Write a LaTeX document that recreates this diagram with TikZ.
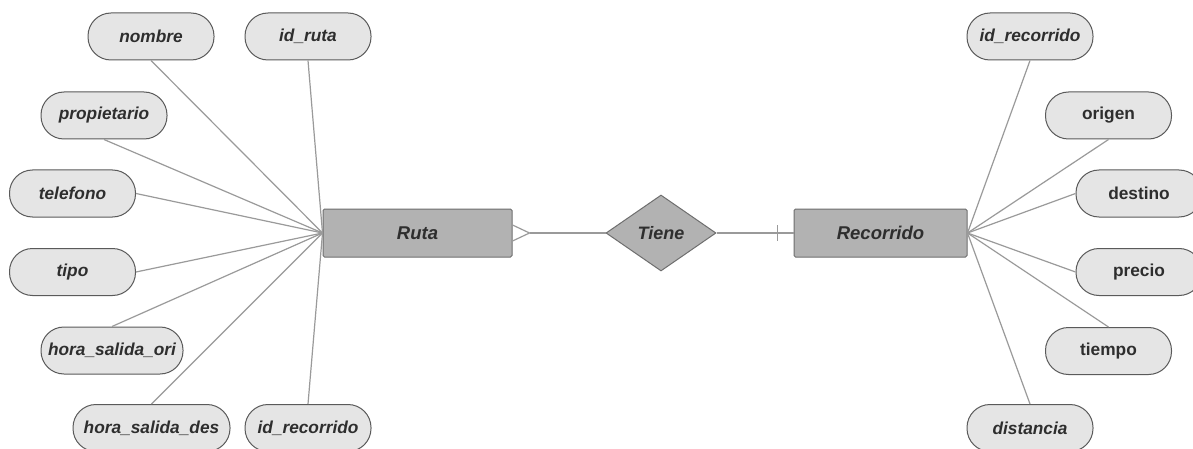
\documentclass[tikz,border=0pt]{standalone}
\usepackage{fontspec}
\setmainfont{Liberation Sans}
\usetikzlibrary{shapes.geometric,calc}
\definecolor{attrfill}{HTML}{E5E5E5}
\definecolor{attrdraw}{HTML}{5A5A5A}
\definecolor{entfill}{HTML}{B2B2B2}
\definecolor{entdraw}{HTML}{6E6E6E}
\definecolor{linecol}{HTML}{9A9A9A}
\definecolor{txt}{HTML}{2E2E2E}
\begin{document}
\begin{tikzpicture}[x=1pt,y=-1pt,
  attr/.style={draw=attrdraw, fill=attrfill, rounded corners=23pt, minimum width=126pt,
    minimum height=47pt, line width=1pt, inner sep=0pt, text=txt,
    font=\fontsize{17.3}{20}\selectfont\bfseries\itshape},
  attrup/.style={attr, font=\fontsize{17.3}{20}\selectfont\bfseries},
  entity/.style={draw=entdraw, fill=entfill, rounded corners=1.5pt, minimum width=189pt,
    minimum height=48pt, line width=1pt, inner sep=0pt, text=txt,
    font=\fontsize{18.5}{22}\selectfont\bfseries\itshape},
  rel/.style={diamond, draw=entdraw, fill=entfill, minimum width=110pt, minimum height=76pt,
    line width=1pt, inner sep=0pt, text=txt, font=\fontsize{18}{22}\selectfont\bfseries\itshape},
  conn/.style={draw=linecol, line width=1.2pt}]
\useasboundingbox (0,0) rectangle (1193,449);
\fill[white] (0,0) rectangle (1193,449);

% entities
\node[entity] (ruta) at (417.5,233) {Ruta};
\node[entity, minimum width=173pt] (rec) at (880.5,233) {Recorrido};
\node[rel] (tiene) at (661,233) {Tiene};

% left attributes
\node[attr] (nombre) at (151,36.5) {nombre};
\node[attr] (idruta) at (308,36.5) {id\_ruta};
\node[attr] (prop) at (104,115.5) {propietario};
\node[attr] (tel) at (72.5,193.5) {telefono};
\node[attr] (tipo) at (72.5,272) {tipo};
\node[attr, minimum width=142pt] (hso) at (112,350.5) {hora\_salida\_ori};
\node[attr, minimum width=157pt] (hsd) at (151.5,428) {hora\_salida\_des};
\node[attr] (idrecl) at (308,428) {id\_recorrido};

% right attributes
\node[attr] (idrecr) at (1030,36.5) {id\_recorrido};
\node[attrup] (origen) at (1108.5,115.5) {origen};
\node[attrup] (destino) at (1139,193.5) {destino};
\node[attrup] (precio) at (1139,272) {precio};
\node[attrup] (tiempo) at (1108.5,351) {tiempo};
\node[attr] (dist) at (1030,428) {distancia};

% left connectors
\draw[conn] (nombre.south) -- (ruta.west);
\draw[conn] (idruta.south) -- (ruta.west);
\draw[conn] (prop.south) -- (ruta.west);
\draw[conn] (tel.east) -- (ruta.west);
\draw[conn] (tipo.east) -- (ruta.west);
\draw[conn] (hso.north) -- (ruta.west);
\draw[conn] (hsd.north) -- (ruta.west);
\draw[conn] (idrecl.north) -- (ruta.west);

% right connectors
\draw[conn] (idrecr.south) -- (rec.east);
\draw[conn] (origen.south) -- (rec.east);
\draw[conn] (destino.west) -- (rec.east);
\draw[conn] (precio.west) -- (rec.east);
\draw[conn] (tiempo.north) -- (rec.east);
\draw[conn] (dist.north) -- (rec.east);

% relationship connectors
\coordinate (cf) at ($(ruta.east)+(17,0)$);
\draw[conn] (cf) -- (tiene.west);
\draw[conn] ($(ruta.east)+(0,-8)$) -- (cf) -- ($(ruta.east)+(0,8)$);
\draw[conn] (tiene.east) -- (rec.west);
\coordinate (tk) at ($(rec.west)+(-16,0)$);
\draw[conn] ($(tk)+(0,-8)$) -- ($(tk)+(0,8)$);
\end{tikzpicture}
\end{document}
